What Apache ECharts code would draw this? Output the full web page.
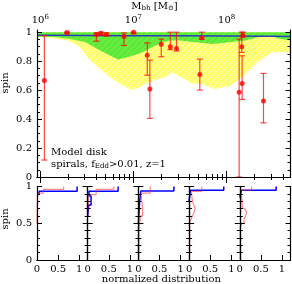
<!DOCTYPE html>
<html><head><meta charset="utf-8">
<script src="https://cdn.jsdelivr.net/npm/echarts@6/dist/echarts.min.js"></script>
<style>html,body{margin:0;padding:0;background:#fff}#c{width:292px;height:284px}</style>
</head><body><div id="c"></div>
<script>
// ---------------- data ----------------
// main panel: log10(M_bh) of each measured galaxy, its spin and error range
const pointLogM = [6.044, 6.287, 6.602, 6.651, 6.709, 6.898, 7.001, 7.148, 7.176, 7.298, 7.395, 7.462, 7.712, 7.733, 8.134, 8.162, 8.166, 8.173, 8.395];
const pointSpin = [0.667, 0.998, 0.984, 0.993, 0.984, 0.970, 1.000, 0.840, 0.607, 0.917, 0.899, 0.888, 0.708, 0.961, 0.586, 0.899, 0.646, 0.979, 0.524];
const pointLo   = [0.117, 0.990, 0.938, 0.980, 0.975, 0.908, 0.990, 0.703, 0.405, 0.830, 0.880, 0.870, 0.600, 0.950, 0.000, 0.860, 0.536, 0.965, 0.374];
const pointHi   = [0.976, 1.000, 0.995, 1.000, 0.995, 0.995, 1.000, 0.926, 0.807, 0.952, 1.000, 1.000, 0.814, 1.000, 0.952, 1.000, 0.837, 1.000, 0.715];

// model band (yellow): lower edge of the spin range, band reaches up to spin = 1
const yellowLogM = [5.965, 6.058, 6.165, 6.305, 6.423, 6.53, 6.637, 6.744, 6.851, 6.977, 7.044, 7.138, 7.245, 7.352, 7.409, 7.495, 7.624, 7.741, 7.870, 8.031, 8.17, 8.33, 8.48, 8.685];
const yellowLow  = [0.966, 0.966, 0.955, 0.941, 0.899, 0.807, 0.75, 0.692, 0.646, 0.600, 0.612, 0.646, 0.674, 0.692, 0.724, 0.697, 0.648, 0.641, 0.607, 0.628, 0.690, 0.793, 0.862, 0.862];
// model band (green)
const greenLogM = [5.965, 6.165, 6.305, 6.487, 6.637, 6.744, 6.833, 6.959, 7.066, 7.138, 7.28, 7.388, 7.495, 7.666, 7.848, 8.03, 8.2, 8.35, 8.458, 8.565, 8.685];
const greenLow  = [0.970, 0.966, 0.954, 0.931, 0.876, 0.841, 0.812, 0.830, 0.853, 0.876, 0.922, 0.943, 0.943, 0.931, 0.919, 0.931, 0.943, 0.966, 0.977, 0.954, 0.943];
// model median (blue line)
const blueLogM = [5.965, 6.5, 7.0, 7.5, 8.0, 8.5, 8.685];
const blueSpin = [0.978, 0.977, 0.976, 0.975, 0.974, 0.972, 0.970];

// bottom panels: normalized spin distributions (bin edges in spin, value per bin)
const blueEdges = [
  [0, 0.89, 0.935, 1],
  [0, 0.6, 0.75, 0.87, 0.935, 1],
  [0, 0.5, 0.8, 0.94, 1],
  [0, 0.8, 0.95, 1],
  [0, 0.85, 0.95, 1]
];
const blueVals = [
  [0.0, 0.05, 0.95],
  [0.0, 0.025, 0.08, 0.03, 0.72],
  [0.0, 0.03, 0.06, 0.84],
  [0.0, 0.03, 0.82],
  [0.0, 0.04, 0.86]
];
const redEdges = [
  [0, 0.5, 0.85, 0.91, 0.96, 1],
  [0, 0.6, 0.85, 0.89, 0.96, 1],
  [0, 0.4, 0.6, 0.7, 0.8, 0.91, 1],
  [0, 0.5, 0.55, 0.6, 0.65, 0.7, 0.75, 0.8, 0.935, 1],
  [0, 0.45, 0.5, 0.55, 0.6, 0.65, 0.7, 0.75, 0.95, 1]
];
const redVals = [
  [0.0, 0.01, 0.02, 0.15, 0.63],
  [0.0, 0.02, 0.05, 0.2, 0.62],
  [0.01, 0.05, 0.1, 0.08, 0.06, 0.28],
  [0.01, 0.04, 0.08, 0.12, 0.14, 0.11, 0.08, 0.05, 0.3],
  [0.01, 0.05, 0.1, 0.14, 0.16, 0.12, 0.06, 0.03, 0.28]
];

// tick values / labels
const massMajorTicks = [6, 7, 8];
const spinTicks = [0, 0.2, 0.4, 0.6, 0.8, 1];
const spinMinorTicks = [0.05, 0.1, 0.15, 0.25, 0.3, 0.35, 0.45, 0.5, 0.55, 0.65, 0.7, 0.75, 0.85, 0.9, 0.95];
const distTicks = [0, 0.5, 1];
const distSpinTicks = [0, 0.5, 1];
const distSpinMinor = [0.1, 0.2, 0.3, 0.4, 0.6, 0.7, 0.8, 0.9];

// ---------------- chart ----------------
const FONT = 'DejaVu Serif';
const X_MIN = 5.965, X_MAX = 8.685, Y_MAX = 1.015;
const massMinorTicks = [];
for (let n = 5; n <= 8; n++) for (let k = 2; k <= 9; k++) {
  const v = n + Math.log10(k);
  if (v > X_MIN && v < X_MAX) massMinorTicks.push(v);
}

function hatch(base, line) {
  const c = document.createElement('canvas');
  c.width = 6; c.height = 6;
  const g = c.getContext('2d');
  g.fillStyle = base; g.fillRect(0, 0, 6, 6);
  g.strokeStyle = line; g.lineWidth = 1;
  g.beginPath(); g.moveTo(-1, 7); g.lineTo(7, -1); g.stroke();
  return {image: c, repeat: 'repeat'};
}
const yellowFill = hatch('#ffff6e', 'rgba(255,255,225,0.75)');
const greenFill = hatch('#5fe83a', 'rgba(120,245,80,0.8)');

function bandRender(xs, lows, fill) {
  return function (params, api) {
    const pts = [];
    for (let i = 0; i < xs.length; i++) pts.push(api.coord([xs[i], lows[i]]));
    pts.push(api.coord([xs[xs.length - 1], 1]));
    pts.push(api.coord([xs[0], 1]));
    return {type: 'polygon', shape: {points: pts}, style: {fill: fill}};
  };
}

// step outline of a histogram; an empty bin lies on the axis and is left undrawn
function stepData(edges, vals) {
  const d = [];
  for (let i = 0; i < vals.length; i++) {
    if (vals[i] === 0) { d.push([0, edges[i + 1]]); continue; }
    d.push([vals[i], edges[i]]);
    d.push([vals[i], edges[i + 1]]);
  }
  return d;
}

const grids = [{left: 37, top: 30, width: 253.5, height: 147}];
const PW = 50.7;
for (let k = 0; k < 5; k++) grids.push({left: 37 + k * PW, top: 186.5, width: PW, height: 73.5});

const black = {show: true, lineStyle: {color: '#000', width: 1.2}};
const noLine = {show: false};
const xAxes = [], yAxes = [];
function tickAxis(base, ticks, len, labelCfg) {
  return Object.assign({
    type: 'value', splitLine: {show: false}, z: 10,
    axisTick: {show: true, inside: true, length: len, customValues: ticks, lineStyle: {color: '#000', width: 1}},
    axisLabel: labelCfg || {show: false}
  }, base);
}
// main panel x axes
const supRich = {
  b: {fontFamily: FONT, fontSize: 10, color: '#000'},
  s: {fontFamily: FONT, fontSize: 7, color: '#000', verticalAlign: 'top', padding: [0, 0, 5, 0]}
};
xAxes.push(tickAxis({gridIndex: 0, position: 'top', min: X_MIN, max: X_MAX, axisLine: black}, massMajorTicks, 6,
  {show: true, customValues: massMajorTicks, margin: 4, formatter: v => '{b|10}{s|' + Math.round(v) + '}', rich: supRich}));
xAxes.push(tickAxis({gridIndex: 0, position: 'top', min: X_MIN, max: X_MAX, axisLine: noLine}, massMinorTicks, 3));
xAxes.push(tickAxis({gridIndex: 0, position: 'bottom', min: X_MIN, max: X_MAX, axisLine: black}, massMajorTicks, 6));
xAxes.push(tickAxis({gridIndex: 0, position: 'bottom', min: X_MIN, max: X_MAX, axisLine: noLine}, massMinorTicks, 3));
// main panel y axes
yAxes.push(tickAxis({gridIndex: 0, position: 'left', min: 0, max: Y_MAX, axisLine: black}, spinTicks, 5,
  {show: true, customValues: spinTicks, margin: 5, fontFamily: FONT, fontSize: 10, color: '#000'}));
yAxes.push(tickAxis({gridIndex: 0, position: 'left', min: 0, max: Y_MAX, axisLine: noLine}, spinMinorTicks, 3));
yAxes.push(tickAxis({gridIndex: 0, position: 'right', min: 0, max: Y_MAX, axisLine: black}, spinTicks, 5));
yAxes.push(tickAxis({gridIndex: 0, position: 'right', min: 0, max: Y_MAX, axisLine: noLine}, spinMinorTicks, 3));
// bottom panels
const panelX = [], panelY = [];
for (let k = 0; k < 5; k++) {
  const g = k + 1;
  panelX.push(xAxes.length);
  xAxes.push(tickAxis({gridIndex: g, position: 'bottom', min: 0, max: 1.2, axisLine: black}, [0.5, 1], 5,
    {show: true, customValues: distTicks, margin: 4, fontFamily: FONT, fontSize: 10, color: '#000'}));
  xAxes.push(tickAxis({gridIndex: g, position: 'top', min: 0, max: 1.2, axisLine: black}, [], 0));
  panelY.push(yAxes.length);
  yAxes.push(tickAxis({gridIndex: g, position: 'left', min: 0, max: 1, axisLine: black}, distSpinTicks, 5,
    k === 0 ? {show: true, customValues: distSpinTicks, margin: 5, fontFamily: FONT, fontSize: 10, color: '#000'} : {show: false}));
  yAxes.push(tickAxis({gridIndex: g, position: 'left', min: 0, max: 1, axisLine: noLine}, distSpinMinor, 3));
  yAxes.push(tickAxis({gridIndex: g, position: 'right', min: 0, max: 1, axisLine: black}, distSpinTicks, 5));
  yAxes.push(tickAxis({gridIndex: g, position: 'right', min: 0, max: 1, axisLine: noLine}, distSpinMinor, 3));
}

const series = [
  {type: 'custom', xAxisIndex: 0, yAxisIndex: 0, data: [[yellowLogM[0], 1]], clip: true, silent: true,
   renderItem: bandRender(yellowLogM, yellowLow, yellowFill), z: 1},
  {type: 'custom', xAxisIndex: 0, yAxisIndex: 0, data: [[greenLogM[0], 1]], clip: true, silent: true,
   renderItem: bandRender(greenLogM, greenLow, greenFill), z: 2},
  {type: 'line', xAxisIndex: 0, yAxisIndex: 0, data: blueLogM.map((x, i) => [x, blueSpin[i]]),
   showSymbol: false, lineStyle: {color: '#2a3fb8', width: 1.5}, z: 3},
  {type: 'custom', xAxisIndex: 0, yAxisIndex: 0, clip: true, z: 4,
   data: pointLogM.map((x, i) => [x, pointLo[i], pointHi[i]]),
   renderItem: function (params, api) {
     const lo = api.coord([api.value(0), api.value(1)]);
     const hi = api.coord([api.value(0), api.value(2)]);
     const st = {stroke: 'rgba(255,0,0,0.72)', lineWidth: 1.2};
     return {type: 'group', children: [
       {type: 'line', shape: {x1: lo[0], y1: lo[1], x2: hi[0], y2: hi[1]}, style: st},
       {type: 'line', shape: {x1: lo[0] - 3, y1: lo[1], x2: lo[0] + 3, y2: lo[1]}, style: st},
       {type: 'line', shape: {x1: hi[0] - 3, y1: hi[1], x2: hi[0] + 3, y2: hi[1]}, style: st}
     ]};
   }},
  {type: 'scatter', xAxisIndex: 0, yAxisIndex: 0, data: pointLogM.map((x, i) => [x, pointSpin[i]]),
   symbol: 'circle', symbolSize: 5, itemStyle: {color: '#ff0000'}, z: 5}
];
for (let k = 0; k < 5; k++) {
  series.push({type: 'line', xAxisIndex: panelX[k], yAxisIndex: panelY[k], data: stepData(blueEdges[k], blueVals[k]),
    showSymbol: false, lineStyle: {color: '#0000ff', width: 1.5}, z: 3});
  series.push({type: 'line', xAxisIndex: panelX[k], yAxisIndex: panelY[k], data: stepData(redEdges[k], redVals[k]),
    showSymbol: false, lineStyle: {color: 'rgba(255,40,40,0.55)', width: 1.2}, z: 4});
}

const subRich = {
  n: {fontFamily: FONT, fontSize: 10, color: '#000'},
  sub: {fontFamily: FONT, fontSize: 7, color: '#000', verticalAlign: 'bottom', padding: [5, 0, 0, 0]}
};
const graphic = [
  {type: 'text', x: 154.5, y: 6, style: {text: '{n|M}{sub|bh}{n| [M}{sub|⊙}{n|]}', rich: subRich, align: 'center', verticalAlign: 'middle'}},
  {type: 'text', x: 5.5, y: 83, rotation: Math.PI / 2, style: {text: 'spin', font: '10px ' + FONT, fill: '#000', align: 'center', verticalAlign: 'middle'}},
  {type: 'text', x: 5.5, y: 219, rotation: Math.PI / 2, style: {text: 'spin', font: '10px ' + FONT, fill: '#000', align: 'center', verticalAlign: 'middle'}},
  {type: 'text', x: 161.3, y: 279, style: {text: 'normalized distribution', font: '10px ' + FONT, fill: '#000', align: 'center', verticalAlign: 'middle'}},
  {type: 'text', x: 51, y: 152, style: {text: 'Model disk', font: '10px ' + FONT, fill: '#000', align: 'left', verticalAlign: 'middle'}, z: 10},
  {type: 'text', x: 51, y: 164, style: {text: '{n|spirals, f}{sub|Edd}{n|>0.01, z=1}', rich: subRich, align: 'left', verticalAlign: 'middle'}, z: 10}
];

const chart = echarts.init(document.getElementById('c'), null, {renderer: 'canvas'});
chart.setOption({
  animation: false,
  backgroundColor: '#fff',
  grid: grids,
  xAxis: xAxes,
  yAxis: yAxes,
  series: series,
  graphic: graphic
});
</script>
</body></html>
